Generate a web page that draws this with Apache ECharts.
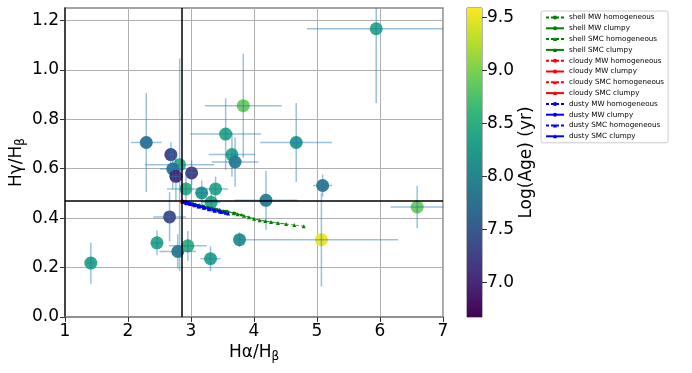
<!DOCTYPE html>
<html>
<head>
<meta charset="utf-8">
<script src="https://cdn.jsdelivr.net/npm/echarts@6/dist/echarts.min.js"></script>
<style>
  html, body { margin: 0; padding: 0; background: #fff; }
  #main { width: 692px; height: 373px; }
</style>
</head>
<body>
<div id="main"></div>
<script>
// observed Balmer ratios, one entry per region
var hAlpha = [5.94, 3.83, 2.29, 3.55, 4.67, 2.68, 2.82, 2.71, 2.76, 3.01, 2.92, 3.17, 3.39, 3.32,
              3.65, 3.70, 4.19, 5.09, 6.59, 5.07, 2.66, 2.46, 2.79, 2.95, 3.31, 3.77, 1.41];
var hGamma = [1.166, 0.855, 0.706, 0.740, 0.706, 0.657, 0.616, 0.599, 0.569, 0.583, 0.518, 0.502, 0.518, 0.464,
              0.657, 0.627, 0.472, 0.532, 0.445, 0.313, 0.405, 0.300, 0.265, 0.288, 0.236, 0.313, 0.218];
var logAge = [8.4, 8.9, 7.75, 8.4, 8.2, 7.2, 8.55, 7.75, 6.9, 7.15, 8.5, 8.2, 8.4, 8.45,
              8.4, 7.9, 7.9, 7.8, 8.9, 9.5, 7.3, 8.4, 7.85, 8.5, 8.35, 8.1, 8.35];
var xErr = [1.1, 0.61, 0.245, 0.56, 0.57, 0.05, 0.55, 0.2, 0.1, 0.1, 0.3, 0.1, 0.2, 0.15,
            0.37, 0.37, 0.5, 0.15, 0.42, 1.22, 0.26, 0.1, 0.29, 0.3, 0.16, 0.05, 0.05];
var yErr = [0.30, 0.21, 0.2, 0.145, 0.16, 0.05, 0.43, 0.08, 0.1, 0.05, 0.07, 0.05, 0.05, 0.04,
            0.09, 0.1, 0.12, 0.045, 0.086, 0.19, 0.1, 0.05, 0.07, 0.06, 0.05, 0.03, 0.083];

// intrinsic case B ratios
var caseBHa = 2.86;
var caseBHg = 0.47;

// model tracks [Ha/Hb], [Hg/Hb]
var shellMWHomX = [2.87, 2.96, 3.07, 3.19, 3.32, 3.45, 3.58, 3.70];
var shellMWHomY = [0.467, 0.462, 0.456, 0.449, 0.441, 0.434, 0.427, 0.420];
var shellMWClX = [2.87, 2.99, 3.13, 3.27, 3.41, 3.55, 3.68, 3.80];
var shellMWClY = [0.467, 0.461, 0.453, 0.444, 0.436, 0.428, 0.421, 0.413];
var shellSMCHomX = [2.88, 3.02, 3.18, 3.35, 3.52, 3.68, 3.84, 4.00, 4.18, 4.38, 4.64, 4.79];
var shellSMCHomY = [0.466, 0.459, 0.449, 0.439, 0.429, 0.420, 0.410, 0.397, 0.388, 0.380, 0.372, 0.367];
var shellSMCClX = [2.88, 3.04, 3.21, 3.39, 3.56, 3.74, 3.92, 4.09, 4.27, 4.51];
var shellSMCClY = [0.466, 0.458, 0.448, 0.437, 0.427, 0.416, 0.404, 0.391, 0.384, 0.376];
var cloudyMWHomX = [2.86, 2.88, 2.90, 2.92];
var cloudyMWHomY = [0.468, 0.467, 0.466, 0.465];
var cloudyMWClX = [2.86, 2.89, 2.91, 2.94];
var cloudyMWClY = [0.468, 0.467, 0.465, 0.464];
var cloudySMCHomX = [2.86, 2.88, 2.91, 2.93, 2.95];
var cloudySMCHomY = [0.468, 0.467, 0.465, 0.464, 0.463];
var cloudySMCClX = [2.86, 2.89, 2.92, 2.96];
var cloudySMCClY = [0.468, 0.466, 0.465, 0.462];
var dustyMWHomX = [2.87, 2.91, 2.96, 3.02, 3.08, 3.15, 3.22, 3.30, 3.38, 3.46];
var dustyMWHomY = [0.466, 0.463, 0.460, 0.456, 0.452, 0.447, 0.442, 0.437, 0.432, 0.427];
var dustyMWClX = [2.87, 2.92, 2.98, 3.04, 3.11, 3.19, 3.27, 3.35, 3.43, 3.52];
var dustyMWClY = [0.466, 0.463, 0.459, 0.455, 0.450, 0.445, 0.440, 0.434, 0.429, 0.424];
var dustySMCHomX = [2.87, 2.93, 2.99, 3.06, 3.13, 3.21, 3.29, 3.38, 3.48, 3.59];
var dustySMCHomY = [0.465, 0.461, 0.457, 0.452, 0.447, 0.442, 0.436, 0.430, 0.425, 0.419];
var dustySMCClX = [2.87, 2.92, 2.98, 3.05, 3.12, 3.20, 3.28, 3.37, 3.46, 3.55];
var dustySMCClY = [0.466, 0.462, 0.458, 0.453, 0.448, 0.443, 0.438, 0.432, 0.427, 0.422];

var xTicks = [1, 2, 3, 4, 5, 6, 7];
var yTicks = [0.0, 0.2, 0.4, 0.6, 0.8, 1.0, 1.2];
var cbarTicks = [7.0, 7.5, 8.0, 8.5, 9.0, 9.5];
var ageMin = 6.67, ageMax = 9.59;

var viridis = ['#440154', '#482878', '#3e4989', '#31688e', '#26828e',
               '#1f9e89', '#35b779', '#6ece58', '#b5de2b', '#fde725'];

function zip(a, b) {
  var out = [];
  for (var i = 0; i < a.length; i++) out.push([a[i], b[i]]);
  return out;
}

var points = [], errs = [];
for (var i = 0; i < hAlpha.length; i++) {
  points.push([hAlpha[i], hGamma[i], logAge[i]]);
  errs.push([hAlpha[i], hGamma[i], xErr[i], yErr[i]]);
}

function renderErr(params, api) {
  var x = api.value(0), y = api.value(1), ex = api.value(2), ey = api.value(3);
  var l = api.coord([x - ex, y]), r = api.coord([x + ex, y]);
  var b = api.coord([x, y - ey]), t = api.coord([x, y + ey]);
  var st = { stroke: 'rgba(31,119,180,0.45)', lineWidth: 1.5 };
  return {
    type: 'group',
    children: [
      { type: 'line', shape: { x1: l[0], y1: l[1], x2: r[0], y2: r[1] }, style: st },
      { type: 'line', shape: { x1: b[0], y1: b[1], x2: t[0], y2: t[1] }, style: st }
    ]
  };
}

function track(name, xs, ys, color, dashed, symbol) {
  return {
    name: name,
    type: 'line',
    xAxisIndex: 0, yAxisIndex: 0,
    data: zip(xs, ys),
    symbol: symbol,
    symbolSize: symbol === 'triangle' ? 4 : 3,
    showSymbol: true,
    z: 4,
    itemStyle: { color: color },
    lineStyle: { color: color, width: 0.7, type: dashed ? [3, 2] : 'solid' }
  };
}

var GREEN = '#008000', RED = '#ff0000', BLUE = '#0000ff';
var font = 'DejaVu Sans';

var chart = echarts.init(document.getElementById('main'));
chart.setOption({
  animation: false,
  backgroundColor: '#fff',
  textStyle: { fontFamily: font },
  grid: [
    { left: 65, right: 249, top: 8, bottom: 56, show: true, borderColor: '#888', borderWidth: 1.5,
      outerBoundsMode: 'none', containLabel: false },
    { left: 467, width: 15, top: 8, bottom: 56, show: true, borderColor: '#666', borderWidth: 1,
      outerBoundsMode: 'none', containLabel: false }
  ],
  visualMap: {
    type: 'continuous', show: false, seriesIndex: 0, dimension: 2,
    min: ageMin, max: ageMax, inRange: { color: viridis }
  },
  legend: {
    orient: 'vertical', left: 541, top: 11,
    padding: [3, 4, 3, 4], itemWidth: 18, itemHeight: 5, itemGap: 3.8,
    borderColor: '#ccc', borderWidth: 1, borderRadius: 2,
    textStyle: { fontSize: 7.2, color: '#000', fontFamily: font },
    data: ['shell MW homogeneous', 'shell MW clumpy', 'shell SMC homogeneous', 'shell SMC clumpy',
           'cloudy MW homogeneous', 'cloudy MW clumpy', 'cloudy SMC homogeneous', 'cloudy SMC clumpy',
           'dusty MW homogeneous', 'dusty MW clumpy', 'dusty SMC homogeneous', 'dusty SMC clumpy']
  },
  xAxis: [
    {
      type: 'value', gridIndex: 0, min: 1, max: 7, interval: 1,
      name: 'Hα/H{s|β}', nameLocation: 'middle', nameGap: 25, nameMoveOverlap: false,
      nameTextStyle: { fontSize: 17, color: '#000', fontFamily: font,
        rich: { s: { fontSize: 12, padding: [9, 0, 0, 0], fontFamily: font, color: '#000' } } },
      axisLine: { lineStyle: { color: '#888', width: 1.5 } },
      axisTick: { length: 5, lineStyle: { color: '#333' } },
      axisLabel: { fontSize: 17, color: '#000', margin: 6,
        customValues: xTicks, formatter: function (v) { return String(v); } },
      splitLine: { show: true, lineStyle: { color: '#b0b0b0', width: 1 } }
    },
    { type: 'category', gridIndex: 1, data: ['age'], show: false }
  ],
  yAxis: [
    {
      type: 'value', gridIndex: 0, min: 0, max: 1.25, interval: 0.2,
      name: 'Hγ/H{s|β}', nameLocation: 'middle', nameGap: 38, nameRotate: 90, nameMoveOverlap: false,
      nameTextStyle: { fontSize: 17, color: '#000', fontFamily: font,
        rich: { s: { fontSize: 12, padding: [9, 0, 0, 0], fontFamily: font, color: '#000' } } },
      axisLine: { lineStyle: { color: '#222', width: 1.5 } },
      axisTick: { length: 5, customValues: yTicks, lineStyle: { color: '#333' } },
      axisLabel: { fontSize: 17, color: '#000', margin: 6,
        customValues: yTicks, formatter: function (v) { return v.toFixed(1); } },
      splitLine: { show: true, lineStyle: { color: '#b0b0b0', width: 1 } }
    },
    {
      type: 'value', gridIndex: 1, min: ageMin, max: ageMax, position: 'right',
      name: 'Log(Age) (yr)', nameLocation: 'middle', nameGap: 36, nameRotate: 90,
      nameTextStyle: { fontSize: 17, color: '#000', fontFamily: font },
      axisLine: { show: false },
      axisTick: { show: true, length: 5, customValues: cbarTicks, lineStyle: { color: '#333' } },
      axisLabel: { fontSize: 17, color: '#000', margin: 5,
        customValues: cbarTicks, formatter: function (v) { return v.toFixed(1); } },
      splitLine: { show: false }
    }
  ],
  series: [
    {
      type: 'scatter', xAxisIndex: 0, yAxisIndex: 0,
      data: points, symbolSize: 13, z: 2,
      itemStyle: { opacity: 0.95 }
    },
    {
      type: 'custom', xAxisIndex: 0, yAxisIndex: 0,
      data: errs, renderItem: renderErr, clip: true, z: 3, silent: true
    },
    track('shell MW homogeneous', shellMWHomX, shellMWHomY, GREEN, true, 'circle'),
    track('shell MW clumpy', shellMWClX, shellMWClY, GREEN, false, 'circle'),
    track('shell SMC homogeneous', shellSMCHomX, shellSMCHomY, GREEN, true, 'triangle'),
    track('shell SMC clumpy', shellSMCClX, shellSMCClY, GREEN, false, 'triangle'),
    track('cloudy MW homogeneous', cloudyMWHomX, cloudyMWHomY, RED, true, 'circle'),
    track('cloudy MW clumpy', cloudyMWClX, cloudyMWClY, RED, false, 'circle'),
    track('cloudy SMC homogeneous', cloudySMCHomX, cloudySMCHomY, RED, true, 'triangle'),
    track('cloudy SMC clumpy', cloudySMCClX, cloudySMCClY, RED, false, 'triangle'),
    track('dusty MW homogeneous', dustyMWHomX, dustyMWHomY, BLUE, true, 'circle'),
    track('dusty MW clumpy', dustyMWClX, dustyMWClY, BLUE, false, 'circle'),
    track('dusty SMC homogeneous', dustySMCHomX, dustySMCHomY, BLUE, true, 'triangle'),
    track('dusty SMC clumpy', dustySMCClX, dustySMCClY, BLUE, false, 'triangle'),
    {
      type: 'line', xAxisIndex: 0, yAxisIndex: 0, data: [], z: 6,
      markLine: {
        silent: true, symbol: 'none', label: { show: false },
        lineStyle: { color: '#000', width: 1.5, type: 'solid' },
        data: [{ xAxis: caseBHa }, { yAxis: caseBHg }]
      }
    },
    // colorbar: transparent base + gradient segment
    {
      type: 'bar', xAxisIndex: 1, yAxisIndex: 1, stack: 'cb', barWidth: '100%',
      data: [ageMin], itemStyle: { color: 'rgba(0,0,0,0)' }, silent: true
    },
    {
      type: 'bar', xAxisIndex: 1, yAxisIndex: 1, stack: 'cb', barWidth: '100%',
      data: [ageMax - ageMin], silent: true,
      itemStyle: {
        color: new echarts.graphic.LinearGradient(0, 1, 0, 0, viridis.map(function (c, k) {
          return { offset: k / (viridis.length - 1), color: c };
        }))
      }
    }
  ]
});
</script>
</body>
</html>
